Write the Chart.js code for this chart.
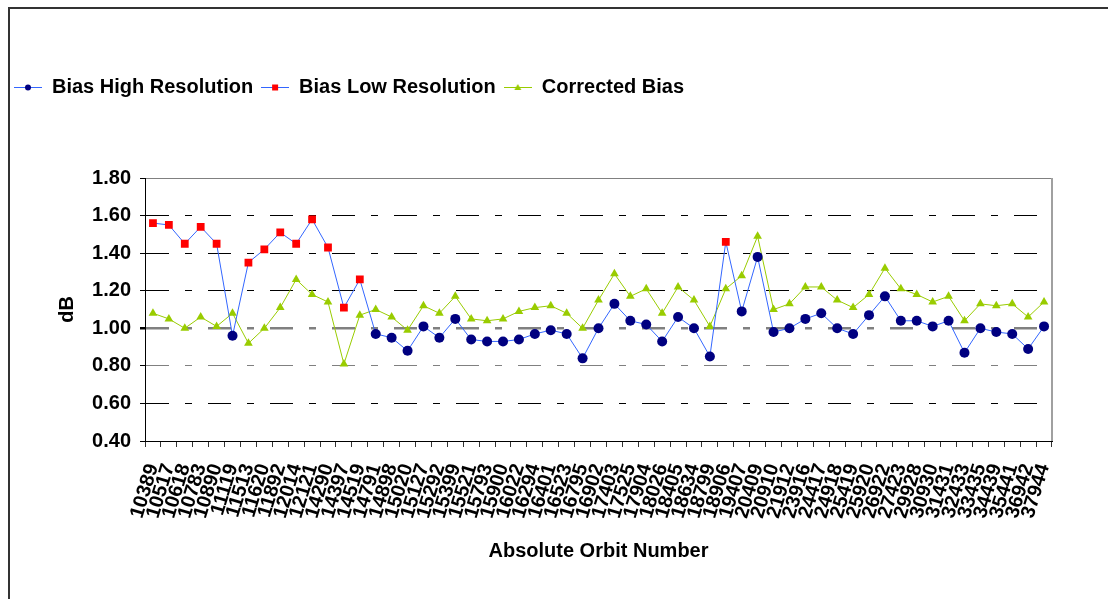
<!DOCTYPE html>
<html>
<head>
<meta charset="utf-8">
<script src="https://cdn.jsdelivr.net/npm/chart.js@4.4.1/dist/chart.umd.min.js"></script>
<style>
    html, body { margin: 0; padding: 0; background: #fff; }
    #wrap { position: relative; width: 1108px; height: 599px; }
</style>
</head>
<body>
<div id="wrap"><canvas id="bias-chart"></canvas></div>
<script>
// orbit numbers along the x axis
const orbits = ['10389', '10517', '10618', '10783', '10890', '11119', '11513', '11620', '11892', '12014',
    '12121', '14290', '14397', '14519', '14791', '14898', '15020', '15127', '15292', '15399',
    '15521', '15793', '15900', '16022', '16294', '16401', '16523', '16795', '16902', '17403',
    '17525', '17904', '18026', '18405', '18634', '18799', '18906', '19407', '20409', '20910',
    '21912', '23916', '24417', '24918', '25419', '25920', '26922', '27423', '29928', '30930',
    '31431', '32433', '33435', '34439', '35441', '36942', '37944'];

// bias values in dB (null = no measurement for that orbit)
const biasHigh = [null, null, null, null, null, 0.96, null, null, null, null,
    null, null, null, null, 0.97, 0.95, 0.88, 1.01, 0.95, 1.05,
    0.94, 0.93, 0.93, 0.94, 0.97, 0.99, 0.97, 0.84, 1.00, 1.13,
    1.04, 1.02, 0.93, 1.06, 1.00, 0.85, null, 1.09, 1.38, 0.98,
    1.00, 1.05, 1.08, 1.00, 0.97, 1.07, 1.17, 1.04, 1.04, 1.01,
    1.04, 0.87, 1.00, 0.98, 0.97, 0.89, 1.01];

const biasLow = [1.56, 1.55, 1.45, 1.54, 1.45, null, 1.35, 1.42, 1.51, 1.45,
    1.58, 1.43, 1.11, 1.26, null, null, null, null, null, null,
    null, null, null, null, null, null, null, null, null, null,
    null, null, null, null, null, null, 1.46, null, null, null,
    null, null, null, null, null, null, null, null, null, null,
    null, null, null, null, null, null, null];

const correctedBias = [1.08, 1.05, 1.00, 1.06, 1.01, 1.08, 0.92, 1.00, 1.11, 1.26,
    1.18, 1.14, 0.81, 1.07, 1.10, 1.06, 0.99, 1.12, 1.08, 1.17,
    1.05, 1.04, 1.05, 1.09, 1.11, 1.12, 1.08, 1.00, 1.15, 1.29,
    1.17, 1.21, 1.08, 1.22, 1.15, 1.01, 1.21, 1.28, 1.49, 1.10,
    1.13, 1.22, 1.22, 1.15, 1.11, 1.18, 1.32, 1.21, 1.18, 1.14,
    1.17, 1.04, 1.13, 1.12, 1.13, 1.06, 1.14];

const FONT = "'Liberation Sans', Arial, sans-serif";
const LINE_BLUE = '#3366ff';
const NAVY = '#000080';
const RED = '#ff0000';
const GREEN = '#99cc00';

// the blue line runs through every measured point, whichever resolution
const blueLine = orbits.map((o, i) => biasHigh[i] != null ? biasHigh[i] : biasLow[i]);

// small "line + marker" icons for the legend, like the spreadsheet legend
function makeIcon(lineColor, markerColor, shape) {
    const c = document.createElement('canvas');
    c.width = 28;
    c.height = 12;
    const g = c.getContext('2d');
    g.strokeStyle = lineColor;
    g.lineWidth = 1;
    g.beginPath();
    g.moveTo(0, 6.5);
    g.lineTo(28, 6.5);
    g.stroke();
    g.fillStyle = markerColor;
    g.beginPath();
    if (shape === 'circle') {
        g.arc(14, 6.5, 3, 0, Math.PI * 2);
    } else if (shape === 'rect') {
        g.rect(11, 3.5, 6, 6);
    } else {
        g.moveTo(14, 3);
        g.lineTo(17.5, 9);
        g.lineTo(10.5, 9);
        g.closePath();
    }
    g.fill();
    return c;
}

const frame = {
    id: 'frame',
    beforeDraw(chart) {
        const c = chart.ctx;
        c.save();
        c.strokeStyle = '#333';
        c.lineWidth = 2;
        c.beginPath();
        c.moveTo(9, 599);
        c.lineTo(9, 8);
        c.lineTo(1108, 8);
        c.stroke();
        c.restore();
    },
    afterDatasetsDraw(chart) {
        const a = chart.chartArea;
        const c = chart.ctx;
        c.save();
        c.strokeStyle = '#a0a0a0';
        c.lineWidth = 2;
        c.beginPath();
        c.moveTo(a.right, a.top);
        c.lineTo(a.right, a.bottom);
        c.stroke();
        c.restore();
    }
};

const legendSpace = {
    id: 'legendSpace',
    beforeInit(chart) {
        const fit = chart.legend.fit;
        chart.legend.fit = function () {
            fit.bind(chart.legend)();
            this.height = 109;
        };
    }
};

function gridColor(ctx) {
    const v = Math.round(ctx.tick.value * 100);
    if (v === 40) return 'rgba(0,0,0,0)';
    if (v === 180 || v === 100 || v === 80) return '#808080';
    return '#000';
}

const ctx = document.getElementById('bias-chart').getContext('2d');

new Chart(ctx, {
    type: 'line',
    data: {
        labels: orbits,
        datasets: [
            {
                label: 'Bias Low Resolution',
                data: biasLow,
                showLine: false,
                pointStyle: 'rect',
                pointRadius: 5.5,
                backgroundColor: RED,
                borderColor: RED,
                pointBorderWidth: 0
            },
            {
                label: 'Bias High Resolution',
                data: blueLine,
                borderColor: LINE_BLUE,
                borderWidth: 1,
                pointStyle: 'circle',
                pointRadius: biasHigh.map(v => v == null ? 0 : 5),
                backgroundColor: NAVY,
                pointBorderColor: NAVY,
                pointBorderWidth: 0
            },
            {
                label: 'Corrected Bias',
                data: correctedBias,
                borderColor: GREEN,
                borderWidth: 1,
                pointStyle: 'triangle',
                pointRadius: 5,
                backgroundColor: GREEN,
                pointBorderColor: GREEN,
                pointBorderWidth: 0
            }
        ]
    },
    options: {
        responsive: true,
        maintainAspectRatio: false,
        animation: false,
        layout: { padding: { top: 69, left: 6, right: 56, bottom: 0 } },
        plugins: {
            tooltip: { enabled: false },
            legend: {
                position: 'top',
                align: 'start',
                labels: {
                    usePointStyle: true,
                    pointStyleWidth: 28,
                    padding: 8,
                    color: '#000',
                    font: { family: FONT, size: 20, weight: 'bold' },
                    generateLabels() {
                        return [
                            { text: 'Bias High Resolution', datasetIndex: 1, pointStyle: makeIcon(LINE_BLUE, NAVY, 'circle'), fillStyle: NAVY, strokeStyle: NAVY, lineWidth: 0, fontColor: '#000', hidden: false },
                            { text: 'Bias Low Resolution', datasetIndex: 0, pointStyle: makeIcon(LINE_BLUE, RED, 'rect'), fillStyle: RED, strokeStyle: RED, lineWidth: 0, fontColor: '#000', hidden: false },
                            { text: 'Corrected Bias', datasetIndex: 2, pointStyle: makeIcon(GREEN, GREEN, 'triangle'), fillStyle: GREEN, strokeStyle: GREEN, lineWidth: 0, fontColor: '#000', hidden: false }
                        ];
                    }
                }
            }
        },
        scales: {
            x: {
                offset: true,
                afterFit(scale) { scale.height = 158; },
                grid: {
                    offset: true,
                    drawOnChartArea: false,
                    tickLength: 6,
                    tickColor: '#333'
                },
                border: { color: '#000', width: 1 },
                ticks: {
                    autoSkip: false,
                    minRotation: 73,
                    maxRotation: 73,
                    padding: 14,
                    color: '#000',
                    font: { family: FONT, size: 20, weight: 'bold' }
                },
                title: {
                    display: true,
                    text: 'Absolute Orbit Number',
                    color: '#000',
                    font: { family: FONT, size: 20, weight: 'bold' },
                    padding: { top: 4, bottom: 36 }
                }
            },
            y: {
                min: 0.4,
                max: 1.8,
                afterFit(scale) { scale.width = 139; },
                grid: {
                    color: gridColor,
                    lineWidth: ctx => Math.round(ctx.tick.value * 100) === 100 ? 2.5 : 1,
                    tickLength: 5,
                    tickColor: '#000',
                    tickBorderDash: []
                },
                border: {
                    color: '#000',
                    width: 1,
                    dash: ctx => Math.round(ctx.tick.value * 100) === 180 ? [] : [23, 16, 7, 16]
                },
                ticks: {
                    stepSize: 0.2,
                    padding: 9,
                    color: '#000',
                    font: { family: FONT, size: 20, weight: 'bold' },
                    callback: v => v.toFixed(2)
                },
                title: {
                    display: true,
                    text: 'dB',
                    color: '#000',
                    font: { family: FONT, size: 20, weight: 'bold' },
                    padding: { top: 49, bottom: 0 }
                }
            }
        }
    },
    plugins: [frame, legendSpace]
});
</script>
</body>
</html>
